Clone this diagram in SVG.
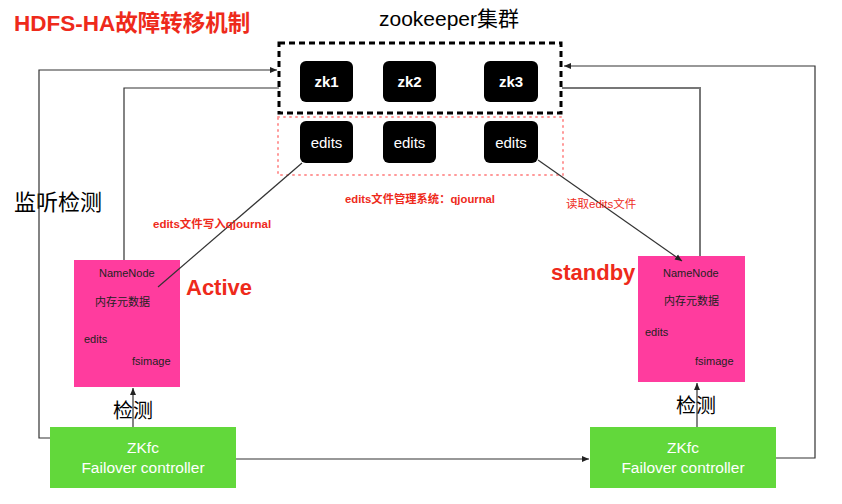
<svg xmlns="http://www.w3.org/2000/svg" width="842" height="504" viewBox="0 0 842 504">
<style>
text{font-family:"Liberation Sans","Noto Sans CJK SC",sans-serif}
.red{fill:#EE2A1B;font-weight:bold}
.blk{fill:#000}
.zk{fill:#000}
.zt{fill:#fff;font-size:15px;font-weight:bold;text-anchor:middle}
.et{fill:#fff;font-size:15px;text-anchor:middle}
.nn{fill:#FF3C9E}
.nt{fill:#222;font-size:11px}
.zf{fill:#62D83B}
.zft{fill:#fff;font-size:15.5px;text-anchor:middle}
.ln{fill:none;stroke:#333;stroke-width:1.2}
.gl{fill:none;stroke:#777;stroke-width:2}
</style>
<defs>
<marker id="ah" markerWidth="8" markerHeight="8" refX="7" refY="4" orient="auto" markerUnits="userSpaceOnUse">
<path d="M0,1 L7,4 L0,7 z" fill="#222"/>
</marker>
</defs>
<rect width="842" height="504" fill="#fff"/>
<text x="14" y="31" class="red" font-size="22.5">HDFS-HA故障转移机制</text>
<text x="449" y="26" font-size="21" text-anchor="middle" class="blk">zookeeper集群</text>
<text x="14" y="210" font-size="22" class="blk">监听检测</text>

<g id="zk-cluster">
<rect x="279" y="43" width="282" height="70" fill="none" stroke="#000" stroke-width="3" stroke-dasharray="6,4"/>
</g>
<g id="qjournal">
<rect x="278" y="117" width="285" height="58" fill="none" stroke="#F99" stroke-width="2" stroke-dasharray="1,5" stroke-linecap="round"/>
</g>
<g id="zk1"><rect x="300" y="61" width="53" height="41" rx="6" class="zk"/><text x="326.5" y="87" class="zt">zk1</text></g>
<g id="zk2"><rect x="383" y="61" width="53" height="41" rx="6" class="zk"/><text x="409.5" y="87" class="zt">zk2</text></g>
<g id="zk3"><rect x="484" y="61" width="54" height="41" rx="6" class="zk"/><text x="511" y="87" class="zt">zk3</text></g>
<g id="edits1"><rect x="300" y="121" width="53" height="42" rx="6" class="zk"/><text x="326.5" y="148" class="et">edits</text></g>
<g id="edits2"><rect x="383" y="121" width="53" height="42" rx="6" class="zk"/><text x="409.5" y="148" class="et">edits</text></g>
<g id="edits3"><rect x="484" y="121" width="54" height="42" rx="6" class="zk"/><text x="511" y="148" class="et">edits</text></g>

<g id="namenode-active">
<rect x="74" y="260" width="106" height="127" class="nn"/>
<text x="99" y="277" class="nt">NameNode</text>
<text x="95" y="306" class="nt">内存元数据</text>
<text x="84" y="343" class="nt">edits</text>
<text x="132" y="365" class="nt">fsimage</text>
</g>
<g id="namenode-standby">
<rect x="638" y="256" width="107" height="126" class="nn"/>
<text x="663" y="277" class="nt">NameNode</text>
<text x="664" y="305" class="nt">内存元数据</text>
<text x="645" y="336" class="nt">edits</text>
<text x="695" y="365" class="nt">fsimage</text>
</g>
<g id="zkfc-active">
<rect x="50" y="427" width="186" height="61" class="zf"/>
<text x="143" y="453" class="zft">ZKfc</text>
<text x="143" y="473" class="zft">Failover controller</text>
</g>
<g id="zkfc-standby">
<rect x="590" y="427" width="186" height="61" class="zf"/>
<text x="683" y="453" class="zft">ZKfc</text>
<text x="683" y="473" class="zft">Failover controller</text>
</g>

<text x="186" y="295" class="red" font-size="22">Active</text>
<text x="551" y="280" class="red" font-size="22">standby</text>

<g id="connectors">
<path d="M50,438 H39 V70 H277" class="ln" marker-end="url(#ah)"/>
<path d="M124,260 V88 H279" class="ln"/>
<path d="M776,458 H815 V66 H564" class="ln" marker-end="url(#ah)"/>
<path d="M700,256 V88 H562" class="gl"/>
<path d="M302,163 L158,287" class="ln"/>
<path d="M538,160 L682,261" class="ln" marker-end="url(#ah)"/>
<path d="M236,459 H589" class="ln" marker-end="url(#ah)"/>
<path d="M133,427 V388" class="ln" marker-end="url(#ah)"/>
<path d="M697,427 V383" class="ln" marker-end="url(#ah)"/>
</g>
<text x="153" y="228" class="red" font-size="11.5">edits文件写入qjournal</text>
<text x="345" y="203" class="red" font-size="11.3">edits文件管理系统：qjournal</text>
<text x="566" y="208" class="red" font-size="11.5" style="font-weight:normal">读取edits文件</text>
<text x="113" y="418" font-size="20" class="blk">检测</text>
<text x="676" y="413" font-size="20" class="blk">检测</text>
</svg>
